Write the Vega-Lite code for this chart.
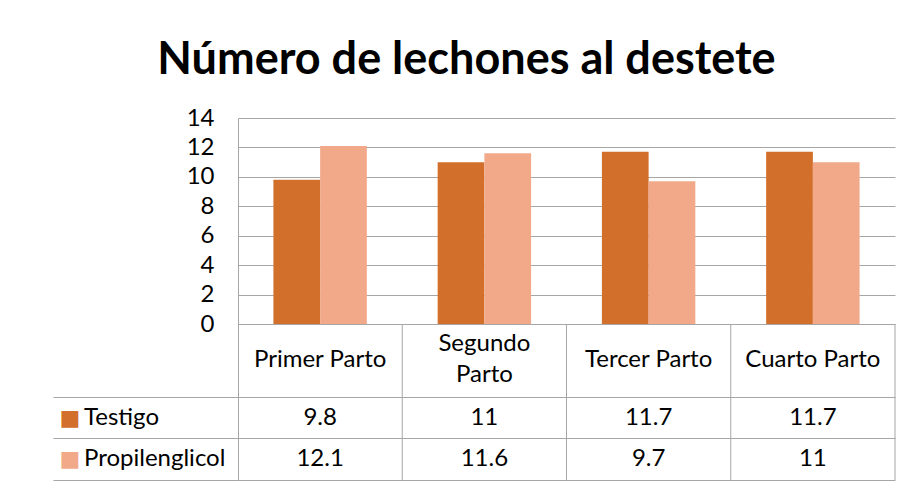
{
  "$schema": "https://vega.github.io/schema/vega-lite/v6.json",
  "width": 657,
  "height": 362,
  "autosize": {"type": "none"},
  "padding": {"left": 238, "top": 118, "right": 17, "bottom": 8},
  "background": "white",
  "title": {
    "text": "Número de lechones al destete",
    "font": "Lato",
    "fontSize": 45,
    "fontWeight": "bold",
    "color": "black",
    "anchor": "middle",
    "frame": "group",
    "dx": -100,
    "offset": -13,
    "baseline": "alphabetic"
  },
  "config": {
    "view": {"stroke": null},
    "font": "Lato",
    "text": {"font": "Lato", "fontSize": 24, "color": "black"}
  },
  "datasets": {
    "valores": [
      {"parto": "Primer Parto", "serie": "Testigo", "valor": 9.8},
      {"parto": "Primer Parto", "serie": "Propilenglicol", "valor": 12.1},
      {"parto": "Segundo Parto", "serie": "Testigo", "valor": 11},
      {"parto": "Segundo Parto", "serie": "Propilenglicol", "valor": 11.6},
      {"parto": "Tercer Parto", "serie": "Testigo", "valor": 11.7},
      {"parto": "Tercer Parto", "serie": "Propilenglicol", "valor": 9.7},
      {"parto": "Cuarto Parto", "serie": "Testigo", "valor": 11.7},
      {"parto": "Cuarto Parto", "serie": "Propilenglicol", "valor": 11}
    ],
    "partos": [
      {"parto": "Primer Parto", "encabezado": "Primer Parto"},
      {"parto": "Segundo Parto", "encabezado": "Segundo\nParto"},
      {"parto": "Tercer Parto", "encabezado": "Tercer Parto"},
      {"parto": "Cuarto Parto", "encabezado": "Cuarto Parto"}
    ],
    "series": [
      {"serie": "Testigo"},
      {"serie": "Propilenglicol"}
    ]
  },
  "layer": [
    {
      "data": {"name": "valores"},
      "mark": {"type": "bar"},
      "encoding": {
        "x": {
          "field": "parto",
          "type": "nominal",
          "scale": {
            "domain": ["Primer Parto", "Segundo Parto", "Tercer Parto", "Cuarto Parto"],
            "paddingInner": 0,
            "paddingOuter": 0
          },
          "axis": null
        },
        "xOffset": {
          "field": "serie",
          "type": "nominal",
          "scale": {"domain": ["Testigo", "Propilenglicol"], "paddingInner": 0, "paddingOuter": 0.758}
        },
        "y": {
          "field": "valor",
          "type": "quantitative",
          "scale": {"domain": [-10.6, 14], "nice": false, "zero": false},
          "axis": {
            "values": [-10.6, -7.747, -4.961, 0, 2, 4, 6, 8, 10, 12, 14],
            "tickCount": 30,
            "title": null,
            "grid": true,
            "gridColor": "#A6A6A6",
            "gridWidth": 1,
            "domainColor": "#A6A6A6",
            "tickColor": "#A6A6A6",
            "tickSize": {"condition": {"test": "datum.value < 0", "value": 185}, "value": 0},
            "labelExpr": "datum.value >= 0 ? datum.label : ''",
            "labelOverlap": false,
            "labelFlush": false,
            "labelBound": false,
            "labelFont": "Lato",
            "labelFontSize": 24,
            "labelColor": "black",
            "labelPadding": 24
          }
        },
        "color": {
          "field": "serie",
          "type": "nominal",
          "scale": {"domain": ["Testigo", "Propilenglicol"], "range": ["#D2702B", "#F2A98A"]},
          "legend": null
        }
      }
    },
    {
      "data": {"name": "partos"},
      "mark": {"type": "rule", "color": "#A6A6A6", "strokeWidth": 1},
      "encoding": {
        "x": {"field": "parto", "type": "nominal", "bandPosition": 1},
        "y": {"datum": 0, "type": "quantitative"},
        "y2": {"datum": -10.6}
      }
    },
    {
      "data": {"name": "partos"},
      "transform": [{"filter": "indexof(datum.encabezado, '\\n') < 0"}],
      "mark": {"type": "text"},
      "encoding": {
        "x": {"field": "parto", "type": "nominal"},
        "y": {"datum": -2.45, "type": "quantitative"},
        "text": {"field": "encabezado", "type": "nominal"}
      }
    },
    {
      "data": {"name": "partos"},
      "transform": [{"filter": "indexof(datum.encabezado, '\\n') >= 0"}],
      "mark": {"type": "text", "lineBreak": "\n", "lineHeight": 31},
      "encoding": {
        "x": {"field": "parto", "type": "nominal"},
        "y": {"datum": -1.38, "type": "quantitative"},
        "text": {"field": "encabezado", "type": "nominal"}
      }
    },
    {
      "data": {"name": "valores"},
      "transform": [{"filter": "datum.serie === 'Testigo'"}],
      "mark": {"type": "text"},
      "encoding": {
        "x": {"field": "parto", "type": "nominal"},
        "y": {"datum": -6.39, "type": "quantitative"},
        "text": {"field": "valor", "type": "nominal"}
      }
    },
    {
      "data": {"name": "valores"},
      "transform": [{"filter": "datum.serie === 'Propilenglicol'"}],
      "mark": {"type": "text"},
      "encoding": {
        "x": {"field": "parto", "type": "nominal"},
        "y": {"datum": -9.17, "type": "quantitative"},
        "text": {"field": "valor", "type": "nominal"}
      }
    },
    {
      "data": {"name": "series"},
      "transform": [{"filter": "datum.serie === 'Testigo'"}],
      "encoding": {
        "x": {"datum": "Primer Parto", "type": "nominal", "bandPosition": 0},
        "y": {"datum": -6.39, "type": "quantitative"}
      },
      "layer": [
        {
          "mark": {"type": "text", "text": "■", "dx": -168, "font": "DejaVu Sans", "fontSize": 22},
          "encoding": {"color": {"field": "serie", "type": "nominal", "legend": null}}
        },
        {
          "mark": {"type": "text", "align": "left", "dx": -154},
          "encoding": {"text": {"field": "serie", "type": "nominal"}}
        }
      ]
    },
    {
      "data": {"name": "series"},
      "transform": [{"filter": "datum.serie === 'Propilenglicol'"}],
      "encoding": {
        "x": {"datum": "Primer Parto", "type": "nominal", "bandPosition": 0},
        "y": {"datum": -9.17, "type": "quantitative"}
      },
      "layer": [
        {
          "mark": {"type": "text", "text": "■", "dx": -168, "font": "DejaVu Sans", "fontSize": 22},
          "encoding": {"color": {"field": "serie", "type": "nominal", "legend": null}}
        },
        {
          "mark": {"type": "text", "align": "left", "dx": -154},
          "encoding": {"text": {"field": "serie", "type": "nominal"}}
        }
      ]
    }
  ]
}
